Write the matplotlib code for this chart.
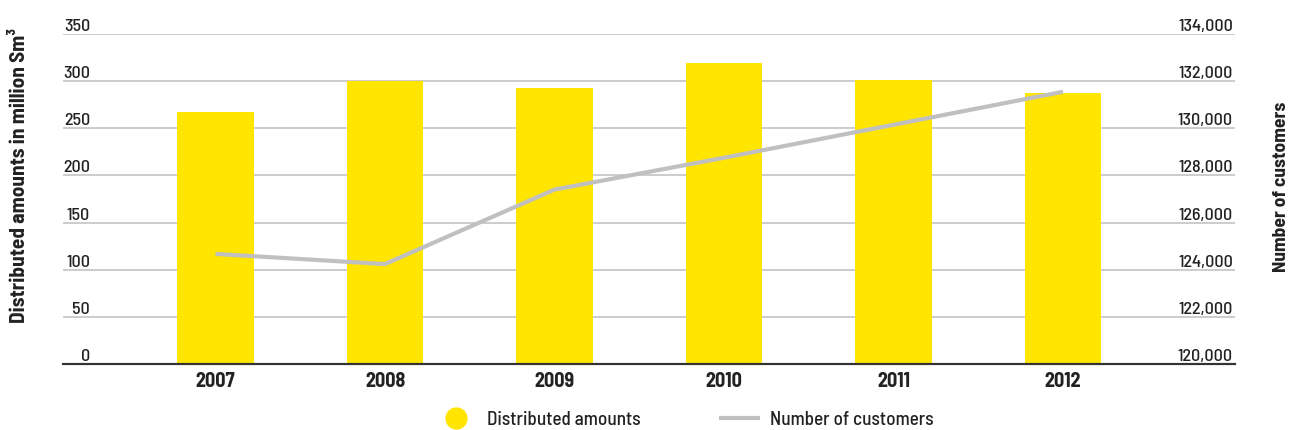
import matplotlib.pyplot as plt
from matplotlib.lines import Line2D
import numpy as np

plt.rcParams['font.family'] = ['Barlow Semi Condensed', 'DejaVu Sans']

years = ['2007', '2008', '2009', '2010', '2011', '2012']
distributed = [267, 300, 293, 319, 301, 287]
customers = [124670, 124240, 127400, 128750, 130150, 131550]

yellow = '#FFE500'
grey_line = '#C0C0C0'
txt = '#222222'

fig = plt.figure(figsize=(12.9, 4.3), dpi=100)
ax = fig.add_axes([0.0488, 0.1535, 0.9086, 0.7674])
ax2 = ax.twinx()

x = np.arange(len(years))
ax.bar(x, distributed, width=0.45, color=yellow, zorder=2)
ax2.plot(x, customers, color=grey_line, lw=3, zorder=3, solid_capstyle='butt')

ax.set_xlim(-0.90, 6.015)
ax.set_ylim(0, 350)
ax2.set_ylim(120000, 134000)

ax.set_yticks(np.arange(0, 351, 50))
ax2.set_yticks(np.arange(120000, 134001, 2000))
ax2.set_yticklabels([f'{v:,}' for v in range(120000, 134001, 2000)])

ax.yaxis.grid(True, color='#C8C8C8', lw=1.3, zorder=0)
ax.set_axisbelow(True)

for a in (ax, ax2):
    for s in ('top', 'left', 'right'):
        a.spines[s].set_visible(False)
    a.spines['bottom'].set_color('#333333')
    a.spines['bottom'].set_linewidth(1.5)

ax.set_xticks(x)
ax.set_xticklabels(years, fontsize=14.5, fontweight='bold', color=txt)
ax.tick_params(axis='x', length=0, pad=6)

# tick labels sit inside the plot, just above each gridline
ax.tick_params(axis='y', length=0, pad=-19.5, labelsize=13, labelcolor=txt)
for t in ax.get_yticklabels():
    t.set_va('bottom')
    t.set_fontweight('medium')
ax2.tick_params(axis='y', length=0, pad=-1.5, labelsize=13, labelcolor=txt)
for t in ax2.get_yticklabels():
    t.set_va('bottom')
    t.set_ha('right')
    t.set_fontweight('medium')

ax.set_ylabel('Distributed amounts in million Sm³', fontsize=15.3,
              fontweight='bold', color=txt)
ax.yaxis.set_label_coords(-0.029, 0.57)
ax2.set_ylabel('Number of customers', fontsize=14, fontweight='bold',
               color=txt, rotation=90)
ax2.yaxis.set_label_coords(1.032, 0.536)

handles = [
    Line2D([], [], ls='none', marker='o', markersize=15, color=yellow),
    Line2D([], [], color=grey_line, lw=3, solid_capstyle='butt'),
]
fig.legend(handles, ['Distributed amounts', 'Number of customers'],
           loc='center', bbox_to_anchor=(0.531, 0.023), ncol=2, frameon=False,
           handlelength=2.1, columnspacing=4.1, handletextpad=0.55,
           labelcolor=txt, prop={'weight': 'medium', 'size': 13.8})

fig.savefig('out.png', dpi=100)
